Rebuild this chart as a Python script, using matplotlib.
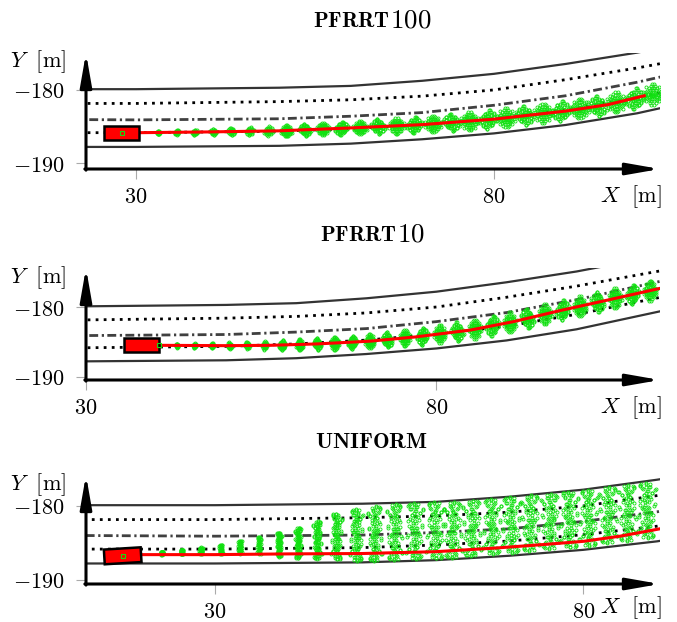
import numpy as np
import matplotlib
matplotlib.use("Agg")
import matplotlib.pyplot as plt
from matplotlib.patches import Rectangle

plt.rcParams['mathtext.fontset'] = 'cm'
plt.rcParams['font.family'] = 'DejaVu Serif'

W, H = 677, 622

# road geometry (same road in every panel)
ROAD_X = [10, 30, 50, 60, 70, 80, 90, 100, 112]
ROAD_UPPER = [-179.9, -179.9, -179.7, -179.45, -178.75, -177.8, -176.45, -174.9, -172.6]
LANE_UPPER = [-181.85, -181.85, -181.6, -181.35, -180.85, -180.0, -178.6, -177.0, -174.8]
ROAD_MID = [-184.0, -184.1, -183.95, -183.6, -183.1, -182.1, -180.8, -178.95, -176.3]
LANE_LOWER = [-185.85, -185.85, -185.65, -185.3, -184.75, -183.9, -182.75, -181.05, -178.6]
ROAD_LOWER = [-187.8, -187.8, -187.65, -187.35, -186.75, -185.95, -184.8, -183.2, -180.6]

# PFRRT100
P1_PATH_X = [30.5, 40, 50, 60, 70, 80, 90, 96, 101]
P1_PATH_Y = [-185.85, -185.75, -185.6, -185.2, -184.75, -184.0, -182.9, -182.0, -180.8]
P1_CL_X = [33.1, 35.7, 38.2, 40.8, 43.3, 45.9, 48.5, 51.0, 53.6, 56.1, 58.7, 61.3, 63.8, 66.4,
           68.9, 71.5, 74.1, 76.6, 79.2, 81.7, 84.3, 86.9, 89.4, 92.0, 94.5, 97.1, 99.7, 102.2]
P1_CL_Y = [-185.85, -185.8, -185.8, -185.75, -185.7, -185.65, -185.6, -185.6, -185.45, -185.35,
           -185.25, -185.15, -185.0, -184.95, -184.8, -184.65, -184.45, -184.3, -184.05, -183.8,
           -183.5, -183.2, -182.9, -182.55, -182.2, -181.7, -181.2, -180.6]
P1_CL_R = [0.25, 0.35, 0.4, 0.45, 0.55, 0.6, 0.7, 0.8, 0.85, 0.9, 0.95, 1.0, 1.05, 1.1,
           1.15, 1.2, 1.25, 1.3, 1.3, 1.35, 1.35, 1.4, 1.4, 1.4, 1.45, 1.45, 1.5, 1.5]

# PFRRT10
P2_PATH_X = [40.4, 50, 56.3, 63, 70.6, 77, 84.9, 91, 97.7, 104, 112]
P2_PATH_Y = [-185.5, -185.55, -185.5, -185.3, -184.9, -184.3, -183.3, -182.1, -180.5, -179.1, -177.3]
P2_CL_X = [43.0, 45.5, 48.0, 50.5, 53.0, 55.5, 58.0, 60.5, 63.0, 65.5, 68.0, 70.5, 73.0, 75.5,
           78.0, 80.5, 83.0, 85.5, 88.0, 90.5, 93.0, 95.5, 98.0, 100.5, 103.0, 105.5, 108.0, 110.5]
P2_CL_Y = [-185.55, -185.55, -185.55, -185.55, -185.5, -185.5, -185.45, -185.4, -185.3, -185.2,
           -185.05, -184.9, -184.7, -184.45, -184.2, -183.85, -183.55, -183.2, -182.7, -182.2,
           -181.65, -181.05, -180.45, -179.9, -179.3, -178.75, -178.2, -177.65]
P2_CL_R = [0.3, 0.35, 0.4, 0.5, 0.55, 0.65, 0.75, 0.8, 0.85, 0.95, 1.0, 1.1, 1.15, 1.2,
           1.3, 1.35, 1.4, 1.45, 1.5, 1.5, 1.5, 1.5, 1.5, 1.5, 1.5, 1.5, 1.5, 1.5]

# UNIFORM
P3_PATH_X = [20.0, 30, 40, 50, 60, 68.2, 75, 80, 85, 90.4]
P3_PATH_Y = [-186.6, -186.6, -186.5, -186.45, -186.2, -185.7, -185.2, -184.8, -184.1, -183.1]
P3_CL_X = [22.8, 25.5, 28.1, 30.8, 33.4, 36.0, 38.7, 41.3, 43.9, 46.5, 49.2, 51.7, 54.4,
           57.1, 59.9, 62.3, 64.9, 67.6, 70.2, 72.8, 75.5, 78.1, 80.7, 83.4, 86.0, 88.6]
P3_CL_TOP = [-186.2, -185.9, -185.6, -185.2, -184.7, -184.2, -183.6, -182.9, -182.0, -181.0,
             -180.4, -180.0, -179.7, -179.5, -179.4, -179.4, -179.2, -179.0, -178.7, -178.5,
             -178.3, -178.0, -177.8, -177.4, -177.1, -176.8]
P3_CL_BOT = [-186.6, -186.6, -186.5, -186.5, -186.5, -186.6, -186.9, -187.1, -187.2, -187.3,
             -187.5, -187.5, -187.4, -187.3, -187.2, -187.1, -186.9, -186.6, -186.4, -186.2,
             -185.9, -185.7, -185.5, -185.1, -184.8, -184.4]
P3_CL_HW = [0.2, 0.2, 0.25, 0.25, 0.3, 0.3, 0.35, 0.45, 0.6, 0.75, 0.9, 1.0, 1.1, 1.2, 1.3,
            1.3, 1.3, 1.3, 1.3, 1.3, 1.3, 1.3, 1.3, 1.3, 1.3, 1.3]

# cars: centre x, centre y, heading (deg); first sample sits on the car
CAR_X = [27.95, 37.9, 17.47]
CAR_Y = [-185.9, -185.45, -186.76]
CAR_ANGLE = [0.0, 0.0, 3.5]
START_X = [28.0, 40.4, 17.5]
START_Y = [-185.9, -185.5, -186.8]

# sample pattern used for every cluster
BLOB_DX = [0.00, 0.20, -0.15, 0.35, -0.30, 0.10, -0.05, 0.45, -0.45, 0.25, -0.25, 0.55, -0.55, 0.15,
           -0.10, 0.65, -0.65, 0.40, -0.40, 0.05, -0.20, 0.30, 0.80, -0.75, 0.20, -0.30, 0.60, -0.60,
           0.95, -0.15, 0.10, -0.90]
BLOB_DY = [0.05, -0.10, 0.20, 0.25, -0.20, 0.40, -0.35, -0.05, 0.05, -0.40, 0.45, 0.35, -0.30, 0.65,
           -0.60, -0.25, 0.25, 0.55, -0.55, 0.15, -0.05, 0.05, 0.15, -0.05, -0.80, 0.80, -0.65, 0.60,
           -0.20, 0.95, -0.95, 0.35]
STRIP_DX = [-0.1, 0.3, -0.5, 0.1, 0.6, -0.3, 0.0, 0.45, -0.7, 0.2, -0.15, 0.8, -0.45, 0.05, 0.35,
            -0.25, 0.65, -0.85, 0.15, -0.05, 0.5, -0.4, 0.25, -0.6, 0.0, 0.4, -0.2, 0.7, -0.35, 0.1,
            -0.05, 0.12, -0.12, 0.9, -0.95, 0.55, -0.65, 0.3, -0.3, 0.05]
STRIP_DY = [-0.95, -0.85, -0.78, -0.70, -0.62, -0.55, -0.48, -0.40, -0.35, -0.28, -0.20, -0.15, -0.10,
            -0.03, 0.05, 0.10, 0.18, 0.22, 0.28, 0.35, 0.42, 0.48, 0.55, 0.62, 0.68, 0.75, 0.82, 0.88,
            0.94, 0.98, -0.62, -0.12, 0.52, -0.72, 0.75, 0.95, -0.92, 0.12, -0.38, 0.85]

GREEN = '#11e011'
FLIP = [(1, 1), (-1, 1), (1, -1), (-1, -1)]


def px_box(left, right, top, bottom):
    return [left / W, 1 - bottom / H, (right - left) / W, (bottom - top) / H]


def draw_road(ax):
    ax.plot(ROAD_X, ROAD_UPPER, color='#333333', lw=1.6, zorder=1)
    ax.plot(ROAD_X, ROAD_LOWER, color='#333333', lw=1.6, zorder=1)
    ax.plot(ROAD_X, LANE_UPPER, color='black', lw=2.0, dashes=(1, 1.9), zorder=1)
    ax.plot(ROAD_X, LANE_LOWER, color='black', lw=2.0, dashes=(1, 1.9), zorder=1)
    ax.plot(ROAD_X, ROAD_MID, color='#404040', lw=2.0, dashes=(3.2, 1.3, 0.8, 1.2), zorder=1)


def draw_blobs(ax, xs, ys, rs, xscale):
    px, py = [], []
    for i, (cx, cy, r) in enumerate(zip(xs, ys, rs)):
        flips = [FLIP[i % 4]]
        if r > 0.7:
            flips.append(FLIP[(i + 3) % 4])
        for sx, sy in flips:
            px += [cx + sx * d * r * xscale for d in BLOB_DX]
            py += [cy + sy * d * r for d in BLOB_DY]
    ax.plot(px, py, 'o', ms=2.2, mfc='none', mec=GREEN, mew=0.6, zorder=3)


def draw_strips(ax, xs, tops, bots, hws):
    px, py = [], []
    for i, (cx, t, b, hw) in enumerate(zip(xs, tops, bots, hws)):
        mid, half = (t + b) / 2, (t - b) / 2
        flips = [FLIP[i % 4]]
        if t - b > 3:
            flips.append((-FLIP[i % 4][0], -FLIP[i % 4][1]))
        for sx, sy in flips:
            px += [cx + sx * d * hw for d in STRIP_DX]
            py += [mid + sy * d * half for d in STRIP_DY]
    ax.plot(px, py, 'o', ms=2.2, mfc='none', mec=GREEN, mew=0.6, zorder=3)


def draw_car(ax, k):
    car = Rectangle((CAR_X[k] - 2.5, CAR_Y[k] - 1.0), 5.0, 2.0, angle=CAR_ANGLE[k],
                    rotation_point='center', facecolor='red', edgecolor='black', lw=1.8, zorder=5)
    ax.add_patch(car)
    ax.plot([START_X[k]], [START_Y[k]], 's', ms=2.5, mfc='none', mec=GREEN, mew=0.8, zorder=6)


def style_axes(ax, xlim, ylim, xticks):
    ax.set_xlim(*xlim)
    ax.set_ylim(*ylim)
    for s in ax.spines.values():
        s.set_visible(False)
    ax.set_xticks(xticks)
    ax.set_xticklabels(['$%d$' % t for t in xticks])
    ax.set_yticks([-190, -180])
    ax.set_yticklabels(['$-190$', '$-180$'])
    ax.tick_params(direction='out', length=7, width=0.8, color='#aaaaaa', labelsize=16)
    ax.tick_params(axis='y', pad=8)
    ax.tick_params(axis='x', pad=5)
    kw = dict(arrowstyle='-|>,head_length=2.0,head_width=0.35', lw=2.2, color='black',
              shrinkA=0, shrinkB=0)
    ax.annotate('', xy=(1, 0), xytext=(-0.002, 0), xycoords='axes fraction', arrowprops=kw,
                annotation_clip=False, zorder=10)
    ax.annotate('', xy=(0, 1), xytext=(0, -0.01), xycoords='axes fraction', arrowprops=kw,
                annotation_clip=False, zorder=10)


def put_title(fig, parts, base_px):
    r = fig.canvas.get_renderer()
    texts = [fig.text(0, 0, s, fontsize=fs, va='baseline', ha='left') for s, fs in parts]
    widths = [t.get_window_extent(r).width for t in texts]
    x = 372 - sum(widths) / 2
    for t, w in zip(texts, widths):
        t.set_position((x / W, 1 - base_px / H))
        x += w


def put_labels(fig, ybase, xbase):
    fig.text(10 / W, 1 - ybase / H, r'$Y\ \ \mathrm{[m]}$', fontsize=16, va='baseline')
    fig.text(600 / W, 1 - xbase / H, r'$X\ \ \mathrm{[m]}$', fontsize=16, va='baseline')


fig = plt.figure(figsize=(W / 100, H / 100), dpi=100)

# top: PFRRT100
ax1 = fig.add_axes(px_box(86, 660, 53, 169))
draw_road(ax1)
draw_blobs(ax1, P1_CL_X, P1_CL_Y, P1_CL_R, 1.0)
ax1.plot(P1_PATH_X, P1_PATH_Y, color='red', lw=2.2, zorder=4)
draw_car(ax1, 0)
style_axes(ax1, (23.0, 103.2), (-190.82, -174.95), [30, 80])

# middle: PFRRT10
ax2 = fig.add_axes(px_box(86, 660, 268, 380))
draw_road(ax2)
draw_blobs(ax2, P2_CL_X, P2_CL_Y, P2_CL_R, 0.65)
ax2.plot(P2_PATH_X, P2_PATH_Y, color='red', lw=2.2, zorder=4)
draw_car(ax2, 1)
style_axes(ax2, (30.0, 111.9), (-190.48, -174.4), [30, 80])

# bottom: UNIFORM
ax3 = fig.add_axes(px_box(86, 660, 475, 584))
draw_road(ax3)
draw_strips(ax3, P3_CL_X, P3_CL_TOP, P3_CL_BOT, P3_CL_HW)
ax3.plot(P3_PATH_X, P3_PATH_Y, color='red', lw=2.2, zorder=4)
draw_car(ax3, 2)
style_axes(ax3, (12.49, 90.41), (-190.58, -175.81), [30, 80])

put_title(fig, [(r'$\mathbf{PFRRT}$', 15.5), (r'$\mathbf{100}$', 19.5)], 27)
put_title(fig, [(r'$\mathbf{PFRRT}$', 15.5), (r'$\mathbf{10}$', 19.5)], 241)
put_title(fig, [(r'$\mathbf{UNIFORM}$', 16)], 448)

put_labels(fig, 67, 202)
put_labels(fig, 283, 413)
put_labels(fig, 490, 613)

fig.savefig('out.png', dpi=100)
